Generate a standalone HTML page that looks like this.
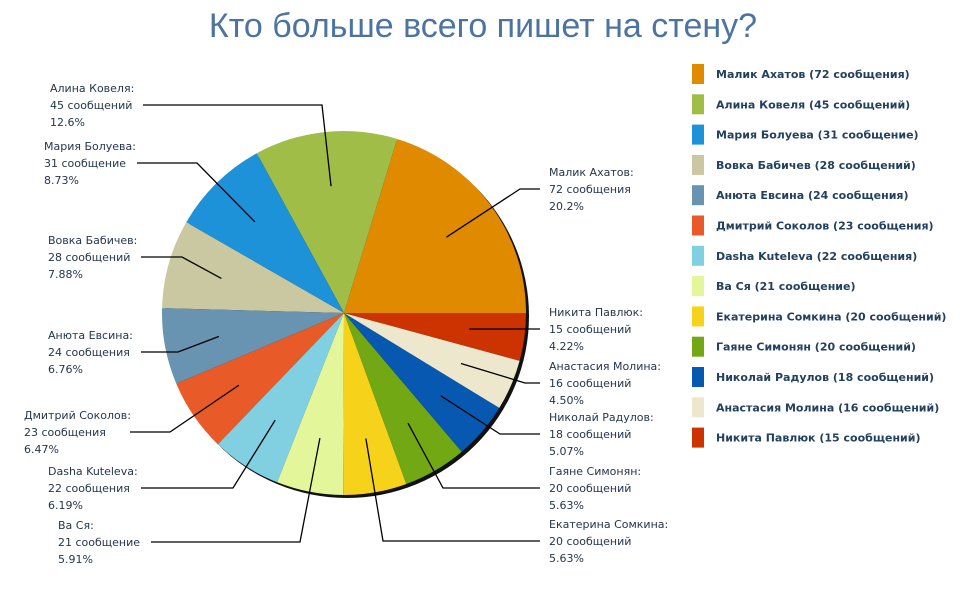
<!DOCTYPE html>
<html><head><meta charset="utf-8"><style>
body{margin:0;background:#fff;width:966px;height:604px;overflow:hidden}
svg{display:block}
.lbl{font-family:"DejaVu Sans","Liberation Sans",sans-serif;font-size:11px;fill:#24364d}
.leg{font-family:"DejaVu Sans","Liberation Sans",sans-serif;font-size:11px;font-weight:bold;fill:#24405f}
</style></head><body>
<svg id="chart" width="966" height="604">
<text x="483" y="37" text-anchor="middle" font-family="Liberation Sans, sans-serif" font-size="34" fill="#4d74a0">Кто больше всего пишет на стену?</text>
<g id="shadow"></g><g id="slices"></g><g id="lines"></g><g id="labels"></g><g id="legend"></g>
</svg>
<script>
const names=["Малик Ахатов","Алина Ковеля","Мария Болуева","Вовка Бабичев","Анюта Евсина","Дмитрий Соколов","Dasha Kuteleva","Ва Ся","Екатерина Сомкина","Гаяне Симонян","Николай Радулов","Анастасия Молина","Никита Павлюк"];
const values=[72,45,31,28,24,23,22,21,20,20,18,16,15];
const words=["сообщения","сообщений","сообщение","сообщений","сообщения","сообщения","сообщения","сообщение","сообщений","сообщений","сообщений","сообщений","сообщений"];
const pcts=["20.2%","12.6%","8.73%","7.88%","6.76%","6.47%","6.19%","5.91%","5.63%","5.63%","5.07%","4.50%","4.22%"];
const colors=["#e08a00","#a0bd48","#1e92d8","#c9c8a1","#6994b1","#e85b28","#80d0e2","#e3f69a","#f7d21a","#72a813","#0758b0","#ede8cd","#cc3300"];
// label layout: text x, first line y, bend x, side
const lay=[[549,176,520,1],[50,92,322,-1],[44,150,197,-1],[48,244,182,-1],[48,339,178,-1],[24,419,170,-1],[48,475,233,-1],[58,529,300,-1],[549,528,383,1],[549,475,443,1],[549,421,500,1],[549,370,525,1],[549,316,470,1]];
const cx=344,cy=313,R=182,NS="http://www.w3.org/2000/svg";
const total=values.reduce((a,b)=>a+b,0);
function mk(t,a,p){const e=document.createElementNS(NS,t);for(const k in a)e.setAttribute(k,a[k]);p.appendChild(e);return e;}
const sh=document.getElementById('shadow');
const sc=mk('circle',{cx:cx+3,cy:cy+3,r:R,fill:'#111'},sh);


const gS=document.getElementById('slices'),gL=document.getElementById('lines'),gT=document.getElementById('labels'),gG=document.getElementById('legend');
let a0=0;
values.forEach((v,i)=>{
 const a1=a0+v/total*2*Math.PI;
 const x0=cx+R*Math.cos(a0),y0=cy-R*Math.sin(a0),x1=cx+R*Math.cos(a1),y1=cy-R*Math.sin(a1);
 const big=(a1-a0)>Math.PI?1:0;
 const p=mk('path',{d:`M${cx},${cy}L${x0},${y0}A${R},${R} 0 ${big} 0 ${x1},${y1}Z`,fill:colors[i]},gS);
 
 
 const am=(a0+a1)/2,ax=cx+R*0.7*Math.cos(am),ay=cy-R*0.7*Math.sin(am);
 const [tx,ty,bx,side]=lay[i];const ly=ty+17;
 const ex=side>0?tx-9:tx+ (i==5?106:93);
 const l=mk('polyline',{points:`${ax},${ay} ${bx},${ly-4} ${ex},${ly-4}`,fill:'none',stroke:'#000','stroke-width':1.3},gL);
 
 
 const t=mk('text',{x:tx,y:ty,class:'lbl'},gT);
 
 
 [names[i]+':',v+' '+words[i],pcts[i]].forEach((s,k)=>{const ts=mk('tspan',{x:tx,dy:k?17:0},t);ts.textContent=s;});
 const ry=64+i*30.3;
 const sw=mk('rect',{x:692,y:ry,width:12,height:20,fill:colors[i]},gG);
 
 
 const lt=mk('text',{x:716,y:ry+14,class:'leg'},gG);
 
 
 lt.textContent=names[i]+' ('+v+' '+words[i]+')';
 a0=a1;
});
</script>
</body></html>
